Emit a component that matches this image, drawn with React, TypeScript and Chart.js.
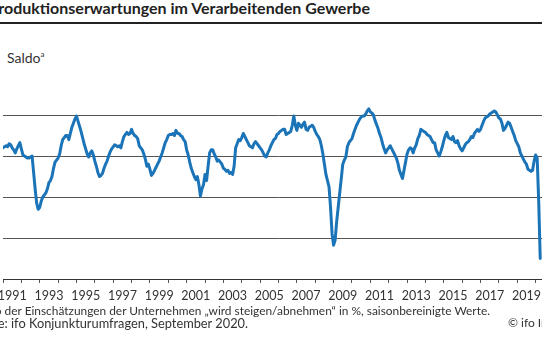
import React, { useEffect, useRef } from "react";
import { Chart, registerables } from "chart.js";

Chart.register(...registerables);

const startYear = 1991;
const endYear = 2021;

// ifo Produktionserwartungen, monthly balance (Saldo), Jan 1991 – Apr 2020
const values: number[] = [
  4, 4.5, 5, 4.5, 6, 5.5, 4, 3, 1.5, 3.5, 5, 6.5, // 1991
  3.5, 0.5, 0, -0.5, -1, -1, -0.5, 0, -8, -16, -23, -26, // 1992
  -25, -22, -20, -19, -18, -16, -13, -12, -10, -6, -3, -2, // 1993
  -1, 1, 5, 8, 9, 10, 10, 8, 11, 14, 16, 18, // 1994
  19.5, 17, 14.5, 12, 9, 6, 3.5, 1, -0.5, 1.5, 2.5, 0.5, // 1995
  -2.5, -5, -8, -10, -9.5, -8.5, -6, -4, -2.5, 0, 2, 3.5, // 1996
  4.5, 5.5, 5, 4.5, 5, 4, 7, 9.5, 10.5, 11.5, 10.5, 11, // 1997
  13, 11, 10, 9.5, 8.5, 5, 4, 3, 1, -1.5, -5, -4, // 1998
  -6.5, -9.5, -8.5, -7, -5.5, -4, -2.5, -0.5, 1.5, 4, 6.5, 8, // 1999
  10, 10.5, 10.5, 11, 10, 12.5, 11, 11, 10, 9.5, 8, 7, // 2000
  3, 0.5, -3, -6, -8, -10, -11.5, -10, -14, -19.5, -16, -14, // 2001
  -9, -12, -5, 1.5, 3, 3, 1, -0.5, -2.5, -2, -3, -4, // 2002
  -6, -6.5, -7.5, -7, -8.5, -8, -9, -5, 4, 6, 8, 7.5, // 2003
  9, 11, 9.5, 8, 6.5, 5, 4.5, 4, 6, 7, 6, 5, // 2004
  4, 3, 1.5, 0, -0.5, 1.5, 3, 5, 6.5, 8, 8.5, 10.5, // 2005
  11, 12, 12.5, 13, 13, 10.5, 11, 11.5, 12, 15, 19.5, 15, // 2006
  12.5, 16, 15, 14, 15.5, 16.5, 13, 12.5, 14, 14.5, 15, 14, // 2007
  12, 10.5, 9.5, 8, 5, 1, -4, -9, -12, -15, -25, -38, // 2008
  -43.5, -41, -32, -25, -18, -11, -4, -2, -0.5, 4.5, 6.5, 7.5, // 2009
  8.5, 11, 13, 15, 16.5, 18, 19, 19.5, 19.5, 20.5, 22, 23, // 2010
  21.5, 21, 20, 17.5, 15.5, 13.5, 11, 9, 6, 3.5, 1.5, 3, // 2011
  4, 5, 3.5, 2, 0.5, -1, -3.5, -7, -9, -11, -7, -3, // 2012
  1, 3, 4, 3.5, 1.5, 4, 5.5, 8.5, 10, 13, 12.5, 12, // 2013
  11.5, 10.5, 10, 9.5, 8, 6.5, 6.5, 3, 1.5, 0, 2, 4.5, // 2014
  7.5, 10, 11.5, 9, 8.5, 8, 9.5, 7, 6.5, 7.5, 5, 3.5, // 2015
  2.5, 4, 5.5, 6.5, 7, 8, 9.5, 9, 11, 12, 13, 12, // 2016
  13, 15, 17, 18.5, 19, 19.5, 20.5, 21, 21.5, 22, 21.5, 20, // 2017
  18.5, 18, 16, 12.5, 13.5, 15, 16.5, 16, 14, 12, 10, 7.5, // 2018
  6, 4.5, 1.5, 0, -1.5, -3, -4, -6.5, -7, -7.5, -7, -2.5, // 2019
  0.5, -1, -22, -50, // 2020
];

const tickLabels = [
  "1991", "1993", "1995", "1997", "1999", "2001", "2003", "2005",
  "2007", "2009", "2011", "2013", "2015", "2017", "2019",
];

const yMin = -60;
const yMax = 40;
const yStep = 20;

const titleText = "Produktionserwartungen im Verarbeitenden Gewerbe";
const unitText = "Saldo";
const noteText = "Saldo der Einschätzungen der Unternehmen „wird steigen/abnehmen“ in %, saisonbereinigte Werte.";
const sourceText = "Quelle: ifo Konjunkturumfragen, September 2020.";
const copyrightText = "© ifo Institut";

const FONT = "Lato, 'Open Sans', sans-serif";

export default function App() {
  const canvasRef = useRef<HTMLCanvasElement | null>(null);

  useEffect(() => {
    const canvas = canvasRef.current;
    if (!canvas) return;
    const points = values.map((v, i) => ({ x: startYear + i / 12, y: v }));
    const chart = new Chart(canvas, {
      type: "line",
      data: {
        datasets: [
          {
            data: points,
            borderColor: "#1b74b8",
            borderWidth: 3,
            pointRadius: 0,
            tension: 0,
            borderJoinStyle: "round",
            borderCapStyle: "round",
            fill: false,
          },
        ],
      },
      options: {
        animation: false,
        responsive: false,
        maintainAspectRatio: false,
        events: [],
        layout: { padding: { left: 3, right: 46, top: 74, bottom: 31 } },
        plugins: { legend: { display: false }, tooltip: { enabled: false }, title: { display: false } },
        scales: {
          x: {
            type: "linear",
            min: startYear,
            max: endYear,
            afterFit: (s: any) => {
              s.height = 30;
              s.paddingLeft = 0;
              s.paddingRight = 0;
            },
            border: { display: true, color: "#333", width: 1 },
            grid: {
              display: true,
              drawOnChartArea: false,
              drawTicks: true,
              tickLength: 4,
              color: "#555",
            },
            ticks: {
              stepSize: 1,
              autoSkip: false,
              maxRotation: 0,
              minRotation: 0,
              padding: 5,
              labelOffset: 9.2,
              color: "#333",
              font: { family: FONT, size: 12.5 },
              callback: (value: any) => {
                const lbl = String(value);
                return tickLabels.includes(lbl) ? lbl : "";
              },
            },
          },
          y: {
            type: "linear",
            min: yMin,
            max: yMax,
            border: { display: false },
            grid: {
              drawTicks: false,
              lineWidth: 1,
              color: (ctx: any) =>
                ctx.tick && (ctx.tick.value === yMax) ? "rgba(0,0,0,0)" : "#555",
            },
            ticks: { display: false, stepSize: yStep },
          },
        },
      },
    });
    return () => chart.destroy();
  }, []);

  const textBase: React.CSSProperties = {
    position: "absolute",
    whiteSpace: "nowrap",
    fontFamily: FONT,
    color: "#333",
  };

  return (
    <div
      style={{
        position: "fixed",
        left: 0,
        top: 0,
        width: 542,
        height: 340,
        overflow: "hidden",
        background: "#fff",
      }}
    >
      <div style={{ ...textBase, right: 172, top: -1, fontSize: 16.0, lineHeight: "18px", fontWeight: 700, color: "#222" }}>
        {titleText}
      </div>
      <div style={{ position: "absolute", left: 0, top: 22, width: 542, height: 2, background: "#222" }} />
      <div style={{ ...textBase, left: 7, top: 45, fontSize: 14, lineHeight: "18px" }}>
        {unitText}
        <span style={{ fontSize: 8, verticalAlign: "6px" }}>a</span>
      </div>
      <canvas
        ref={canvasRef}
        width={600}
        height={340}
        style={{ position: "absolute", left: 0, top: 0, width: 600, height: 340 }}
      />
      <div style={{ ...textBase, right: 52, top: 300, fontSize: 11.9, lineHeight: "14px" }}>
        <span style={{ fontSize: 7, verticalAlign: "5px" }}>a</span> {noteText}
      </div>
      <div style={{ ...textBase, right: 294, top: 316, fontSize: 12.8, lineHeight: "14px" }}>
        {sourceText}
      </div>
      <div style={{ ...textBase, left: 508, top: 316, fontSize: 12, lineHeight: "14px" }}>
        {copyrightText}
      </div>
    </div>
  );
}
